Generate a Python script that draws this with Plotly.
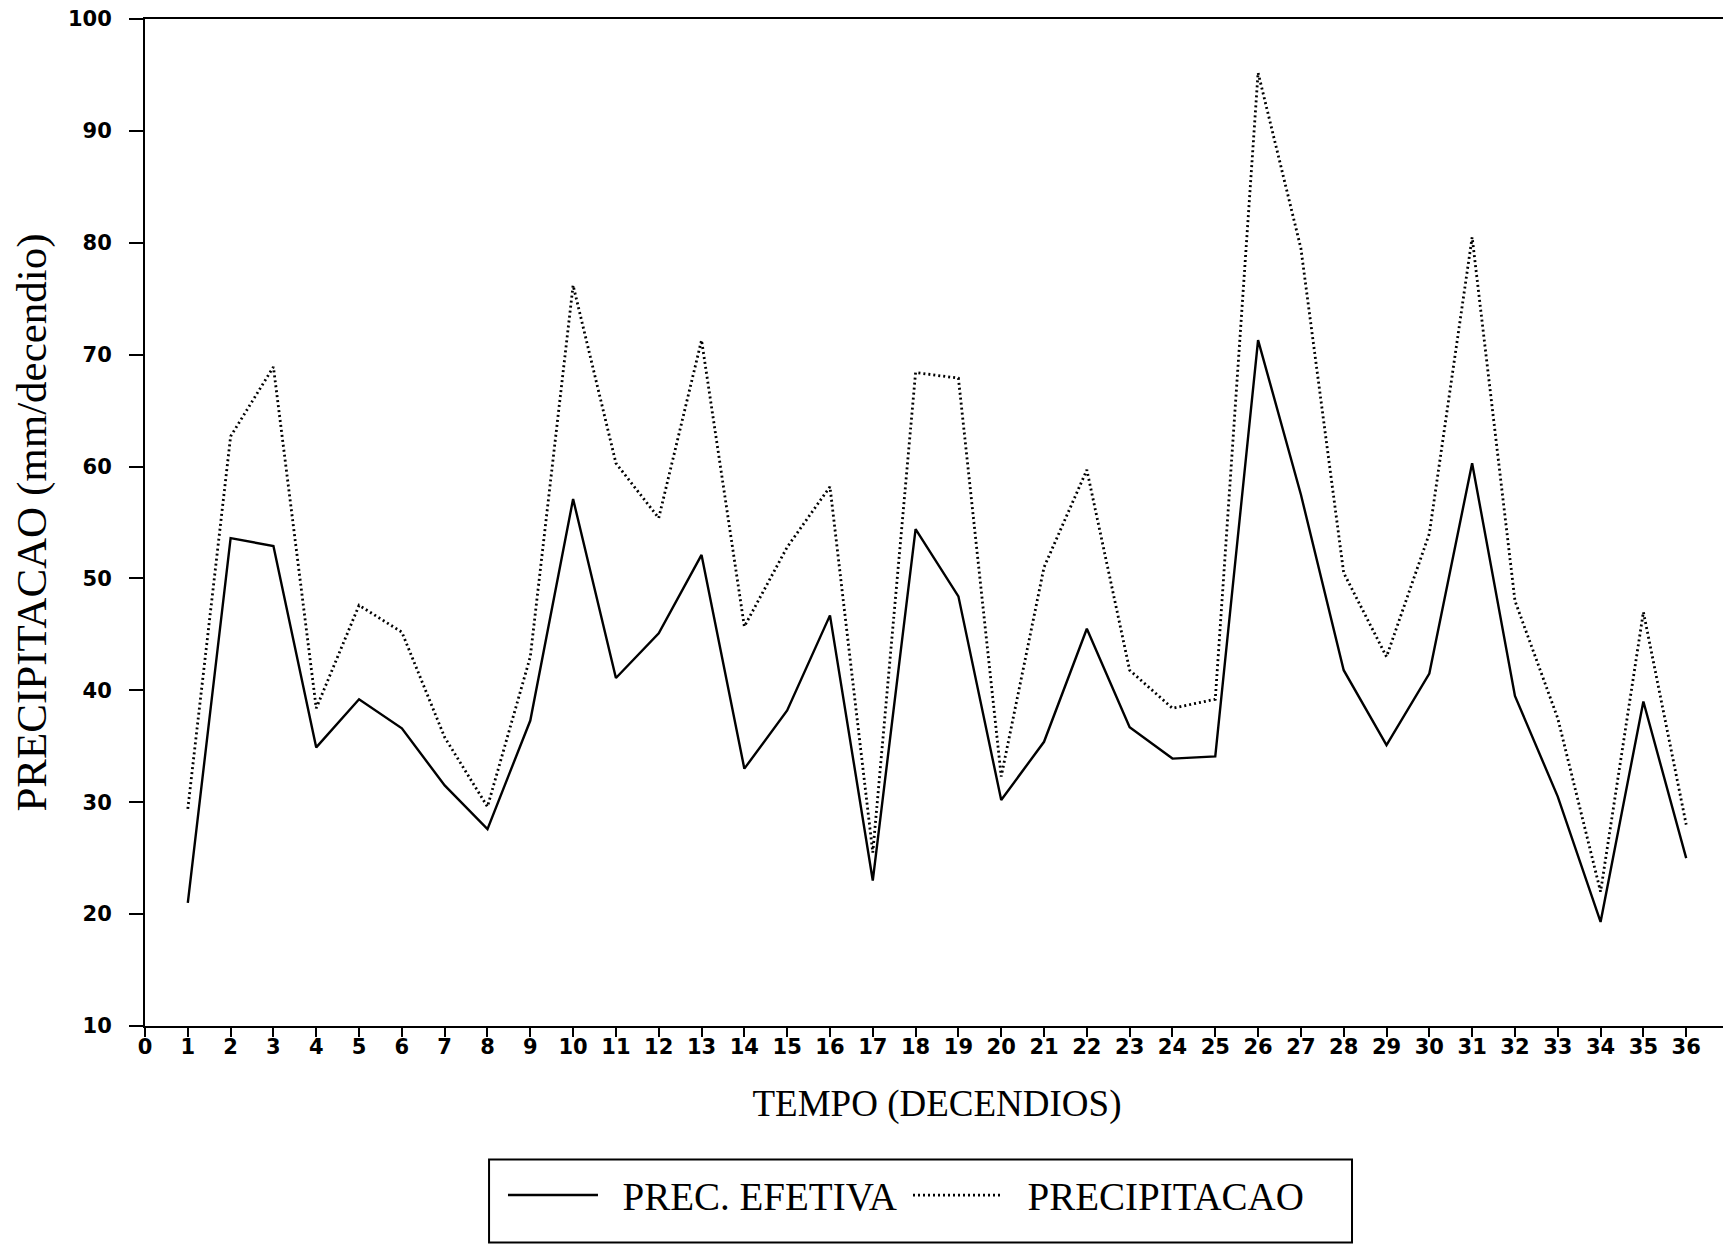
import plotly.graph_objects as go

decendios = list(range(1, 37))
prec_efetiva = [21.0, 53.6, 52.9, 34.9, 39.2, 36.6, 31.5, 27.6, 37.3, 57.1,
                41.1, 45.1, 52.1, 33.0, 38.2, 46.7, 23.0, 54.4, 48.4, 30.2,
                35.4, 45.5, 36.7, 33.9, 34.1, 71.3, 57.5, 41.8, 35.1, 41.5,
                60.3, 39.5, 30.5, 19.3, 39.0, 25.0]
precipitacao = [29.4, 62.7, 68.9, 38.4, 47.6, 45.2, 35.8, 29.6, 43.0, 76.2,
                60.3, 55.4, 71.3, 45.7, 52.8, 58.2, 25.5, 68.4, 67.9, 32.3,
                51.0, 59.7, 41.8, 38.4, 39.2, 95.2, 79.5, 50.5, 43.0, 54.0,
                80.5, 48.0, 37.5, 22.0, 47.0, 28.0]
x_tickvals = list(range(0, 38))
x_ticktext = [str(v) for v in range(0, 37)] + [""]
y_tickvals = [10, 20, 30, 40, 50, 60, 70, 80, 90, 100]
series_names = ["PREC. EFETIVA", "PRECIPITACAO"]

NB = "\u00a0\u00a0"

fig = go.Figure()
fig.add_trace(go.Scatter(x=decendios, y=prec_efetiva, mode="lines",
                         name=NB + series_names[0],
                         line=dict(color="black", width=2.4)))
fig.add_trace(go.Scatter(x=decendios, y=precipitacao, mode="lines",
                         name=NB + series_names[1],
                         line=dict(color="black", width=2.8, dash="2px,3px")))

tickfont = dict(family="DejaVu Sans", size=21, color="black", weight="bold")
serif = "Liberation Serif, Times New Roman, serif"

# page body has an 8px margin, so the figure is shifted by 8px
fig.update_layout(
    width=1723, height=1236,
    margin=dict(l=137, r=2, t=11, b=218),
    paper_bgcolor="white", plot_bgcolor="white",
    showlegend=True,
    legend=dict(orientation="h", x=0.226, xanchor="left", y=-0.168, yanchor="middle",
                font=dict(family=serif, size=39, color="black"),
                itemwidth=90, entrywidth=300, entrywidthmode="pixels",
                bgcolor="rgba(0,0,0,0)", borderwidth=0),
    xaxis=dict(range=[0, 37], tickmode="array", tickvals=x_tickvals, ticktext=x_ticktext,
               showgrid=False, zeroline=False, showline=True, linecolor="black", linewidth=2,
               mirror=True, ticks="outside", ticklen=9, tickwidth=2, tickcolor="black",
               tickfont=tickfont, ticklabelstandoff=-8, automargin=False,
               ticklabeloverflow="allow",
               title=dict(text="TEMPO (DECENDIOS)", font=dict(family=serif, size=37, color="black"),
                          standoff=32)),
    yaxis=dict(range=[10, 100], tickmode="array", tickvals=y_tickvals,
               showgrid=False, zeroline=False, showline=True, linecolor="black", linewidth=2,
               mirror=True, ticks="outside", ticklen=14, tickwidth=2, tickcolor="black",
               tickfont=tickfont, ticklabelstandoff=13, automargin=False,
               ticklabeloverflow="allow",
               title=dict(text="PRECIPITACAO (mm/decendio)", font=dict(family=serif, size=43, color="black"),
                          standoff=24)),
    shapes=[dict(type="rect", xref="paper", yref="paper",
                 x0=0.2172, x1=0.762, y0=-0.2149, y1=-0.1325,
                 line=dict(color="black", width=2), fillcolor="rgba(0,0,0,0)")],
)

fig.write_html("out.html")
